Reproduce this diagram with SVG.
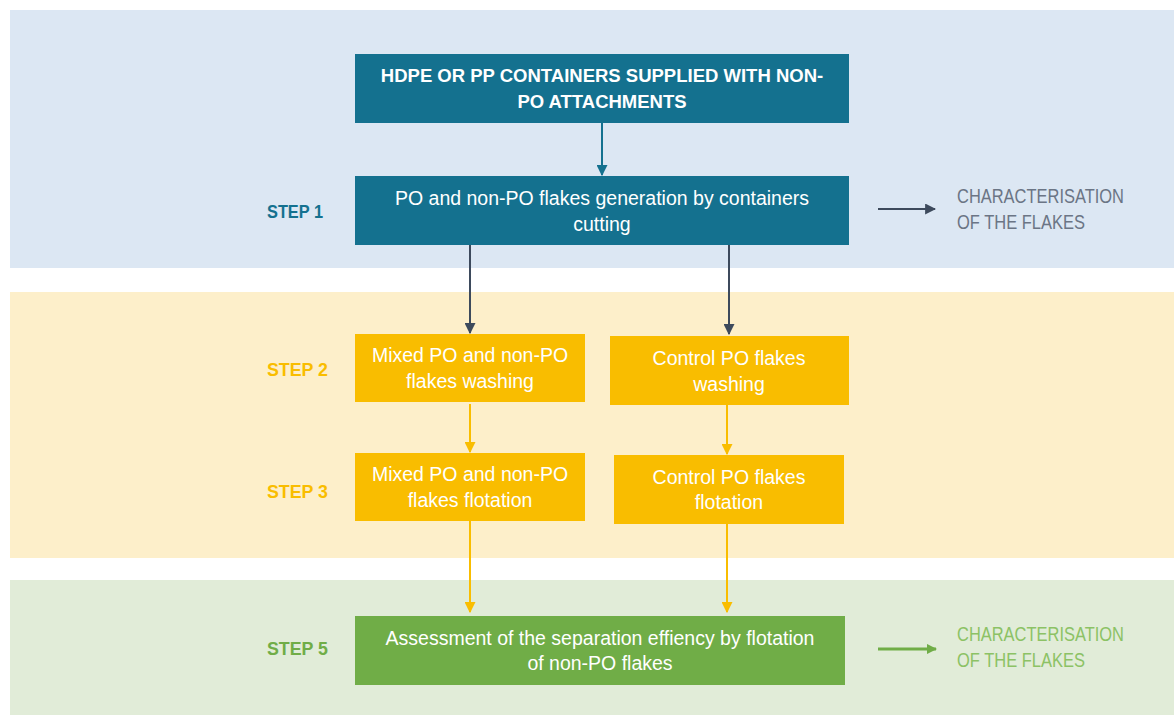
<svg xmlns="http://www.w3.org/2000/svg" width="1174" height="715" viewBox="0 0 1174 715">
<defs>
<style>
.node text{font-family:"Liberation Sans",Arial,sans-serif;font-size:19.5px;fill:#fff;text-anchor:middle}
.bold text{font-weight:bold;font-size:18.5px}
.step{font-family:"Liberation Sans",Arial,sans-serif;font-weight:bold;font-size:19px}
.char{font-family:"Liberation Sans",Arial,sans-serif;font-size:21px}
.c-dark{stroke:#3d4a5c;stroke-width:2;fill:none}
.c-teal{stroke:#14718f;stroke-width:2;fill:none}
.c-yel{stroke:#f9bd00;stroke-width:2;fill:none}
.c-grn{stroke:#70ad47;stroke-width:3;fill:none}
</style>
<marker id="ad" viewBox="0 0 10 10" refX="9" refY="5" markerWidth="5.5" markerHeight="5.5" orient="auto" markerUnits="strokeWidth"><path d="M0,0L10,5L0,10z" fill="#3d4a5c"/></marker>
<marker id="at" viewBox="0 0 10 10" refX="9" refY="5" markerWidth="5.5" markerHeight="5.5" orient="auto" markerUnits="strokeWidth"><path d="M0,0L10,5L0,10z" fill="#14718f"/></marker>
<marker id="ay" viewBox="0 0 10 10" refX="9" refY="5" markerWidth="5.5" markerHeight="5.5" orient="auto" markerUnits="strokeWidth"><path d="M0,0L10,5L0,10z" fill="#f9bd00"/></marker>
<marker id="ag" viewBox="0 0 10 10" refX="9" refY="5" markerWidth="3.5" markerHeight="3.5" orient="auto" markerUnits="strokeWidth"><path d="M0,0L10,5L0,10z" fill="#70ad47"/></marker>
</defs>
<rect width="1174" height="715" fill="#fff"/>
<rect x="10" y="10" width="1164" height="258" fill="#dce7f3"/>
<rect x="10" y="292" width="1164" height="266" fill="#fdefca"/>
<rect x="10" y="580" width="1164" height="135" fill="#e1ecd8"/>

<text class="step" x="267" y="218" fill="#14718f" textLength="56" lengthAdjust="spacingAndGlyphs">STEP 1</text>
<text class="step" x="267" y="376" fill="#f9bd00" textLength="61" lengthAdjust="spacingAndGlyphs">STEP 2</text>
<text class="step" x="267" y="498" fill="#f9bd00" textLength="61" lengthAdjust="spacingAndGlyphs">STEP 3</text>
<text class="step" x="267" y="655" fill="#70ad47" textLength="61" lengthAdjust="spacingAndGlyphs">STEP 5</text>

<g id="connectors">
<line class="c-teal" x1="602" y1="123" x2="602" y2="175" marker-end="url(#at)"/>
<line class="c-dark" x1="470" y1="245" x2="470" y2="333" marker-end="url(#ad)"/>
<line class="c-dark" x1="729" y1="245" x2="729" y2="334" marker-end="url(#ad)"/>
<line class="c-dark" x1="878" y1="209" x2="935" y2="209" marker-end="url(#ad)"/>
<line class="c-yel" x1="470" y1="404" x2="470" y2="452" marker-end="url(#ay)"/>
<line class="c-yel" x1="727" y1="405" x2="727" y2="454" marker-end="url(#ay)"/>
<line class="c-yel" x1="470" y1="521" x2="470" y2="612" marker-end="url(#ay)"/>
<line class="c-yel" x1="727" y1="524" x2="727" y2="612" marker-end="url(#ay)"/>
<line class="c-grn" x1="878" y1="649" x2="936" y2="649" marker-end="url(#ag)"/>
</g>

<g id="n-top" class="node bold">
<rect x="355" y="54" width="494" height="69" fill="#14718f"/>
<text x="602" y="82">HDPE OR PP CONTAINERS SUPPLIED WITH NON-</text>
<text x="602" y="108">PO ATTACHMENTS</text>
</g>
<g id="n-step1" class="node">
<rect x="355" y="176" width="494" height="69" fill="#14718f"/>
<text x="602" y="205">PO and non-PO flakes generation by containers</text>
<text x="602" y="231">cutting</text>
</g>
<g id="n-char1">
<text class="char" x="957" y="203" fill="#6b7585" textLength="167" lengthAdjust="spacingAndGlyphs">CHARACTERISATION</text>
<text class="char" x="957" y="229" fill="#6b7585" textLength="128" lengthAdjust="spacingAndGlyphs">OF THE FLAKES</text>
</g>
<g id="n-mix-wash" class="node">
<rect x="355" y="334" width="230" height="68" fill="#f9bd00"/>
<text x="470" y="362">Mixed PO and non-PO</text>
<text x="470" y="388">flakes washing</text>
</g>
<g id="n-ctl-wash" class="node">
<rect x="610" y="336" width="239" height="69" fill="#f9bd00"/>
<text x="729" y="365">Control PO flakes</text>
<text x="729" y="391">washing</text>
</g>
<g id="n-mix-flot" class="node">
<rect x="355" y="453" width="230" height="68" fill="#f9bd00"/>
<text x="470" y="481">Mixed PO and non-PO</text>
<text x="470" y="507">flakes flotation</text>
</g>
<g id="n-ctl-flot" class="node">
<rect x="614" y="455" width="230" height="69" fill="#f9bd00"/>
<text x="729" y="484">Control PO flakes</text>
<text x="729" y="509">flotation</text>
</g>
<g id="n-assess" class="node">
<rect x="355" y="616" width="490" height="69" fill="#70ad47"/>
<text x="600" y="645">Assessment of the separation effiency by flotation</text>
<text x="600" y="670">of non-PO flakes</text>
</g>
<g id="n-char5">
<text class="char" x="957" y="641" fill="#8cc265" textLength="167" lengthAdjust="spacingAndGlyphs">CHARACTERISATION</text>
<text class="char" x="957" y="667" fill="#8cc265" textLength="128" lengthAdjust="spacingAndGlyphs">OF THE FLAKES</text>
</g>
</svg>
